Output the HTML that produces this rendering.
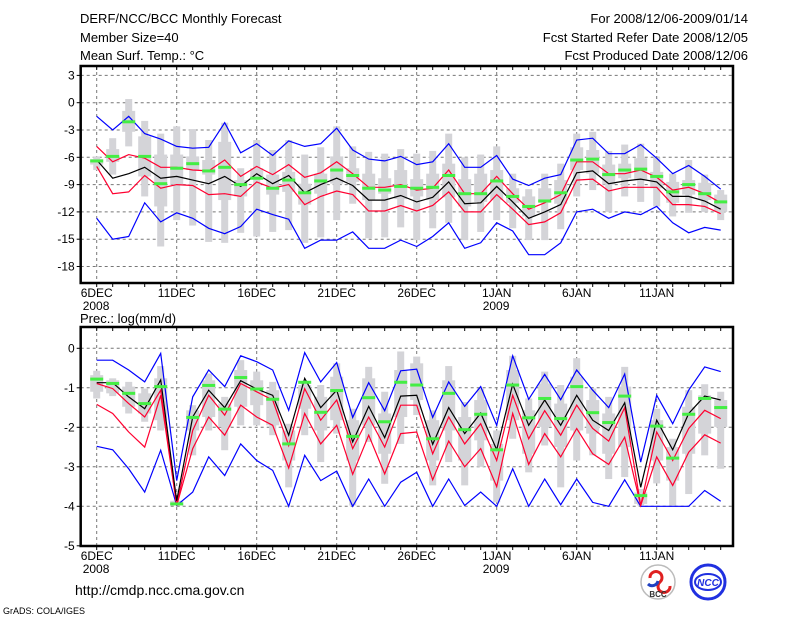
<!DOCTYPE html>
<html><head><meta charset="utf-8"><style>
body{margin:0;background:#fff;width:800px;height:618px;overflow:hidden}
svg text{font-family:"Liberation Sans",sans-serif}
</style></head><body>
<svg id="chart" width="800" height="618" xmlns="http://www.w3.org/2000/svg">
<g font-size="13" fill="#000">
<text x="80" y="23">DERF/NCC/BCC Monthly Forecast</text>
<text x="80" y="42">Member Size=40</text>
<text x="80" y="60">Mean Surf. Temp.: °C</text>
<text x="748" y="23" text-anchor="end">For 2008/12/06-2009/01/14</text>
<text x="748" y="42" text-anchor="end">Fcst Started Refer Date 2008/12/05</text>
<text x="748" y="60" text-anchor="end">Fcst Produced Date 2008/12/06</text>
<text x="80" y="323">Prec.: log(mm/d)</text>
</g>
<g id="top"></g>
<g id="bot"></g>
<text x="75" y="595" font-size="14">http://cmdp.ncc.cma.gov.cn</text>
<text x="3" y="614" font-size="9">GrADS: COLA/IGES</text>
<g>
<circle cx="658" cy="582" r="17" fill="#fff" stroke="#bbb" stroke-width="1.5"/>
<path d="M650 578 a6 6 0 1 1 10 4 a6 6 0 1 0 10 4" fill="none" stroke="#e02020" stroke-width="3"/>
<path d="M648 584 a6 6 0 0 0 10 -3" fill="none" stroke="#2040c0" stroke-width="3"/>
<text x="658" y="597" font-size="8" font-weight="bold" text-anchor="middle" fill="#333">BCC</text>
</g>
<g>
<circle cx="708" cy="582" r="17" fill="none" stroke="#2030e0" stroke-width="3"/>
<ellipse cx="708" cy="582" rx="13" ry="8" fill="none" stroke="#2030e0" stroke-width="2"/>
<text x="708" y="586" font-size="10" font-weight="bold" font-style="italic" text-anchor="middle" fill="#2030e0">NCC</text>
</g>
</svg>
<script>
const days = 40;
const dateLabels = ["6DEC","11DEC","16DEC","21DEC","26DEC","1JAN","6JAN","11JAN"];
const yearLabels = ["2008","","","","","2009","",""];
// Temperature panel data
const tTicks = [3,0,-3,-6,-9,-12,-15,-18];
const tMedian = [-6.3,-8.3,-7.8,-7.1,-8.3,-8.1,-8.5,-8.9,-8.1,-9.2,-7.8,-8.9,-8.0,-9.9,-9.0,-8.3,-9.1,-10.7,-10.7,-10.2,-10.9,-10.4,-8.7,-11.1,-11.0,-9.2,-10.9,-12.7,-12.0,-11.2,-7.7,-7.5,-8.9,-8.6,-8.4,-8.7,-10.3,-10.3,-10.8,-11.7];
const tRedHi = [-4.8,-6.5,-5.7,-6.1,-7.1,-7.1,-7.4,-7.5,-6.3,-8.1,-7.0,-7.9,-6.8,-8.2,-7.7,-6.5,-7.8,-9.3,-9.3,-9.0,-9.6,-9.4,-7.4,-10.0,-10.0,-8.1,-10.0,-11.7,-11.0,-10.1,-6.5,-6.5,-7.8,-7.8,-7.4,-8.2,-9.6,-9.3,-10.0,-11.0];
const tRedLo = [-7.0,-10.0,-9.8,-8.0,-9.4,-9.0,-9.1,-10.1,-10.0,-10.3,-8.7,-9.4,-9.0,-11.2,-10.3,-9.7,-10.1,-11.9,-11.9,-11.3,-11.9,-11.3,-9.8,-12.0,-12.0,-10.1,-11.7,-13.4,-13.1,-12.1,-8.5,-8.4,-9.7,-9.3,-9.3,-9.3,-11.2,-11.2,-11.4,-12.2];
const tMax = [-1.5,-3.0,-1.5,-3.4,-4.0,-4.8,-5.0,-4.9,-2.2,-5.5,-4.5,-5.8,-4.2,-4.8,-4.5,-2.8,-5.2,-6.2,-6.4,-5.9,-6.8,-6.5,-4.5,-7.1,-7.1,-5.8,-8.4,-9.1,-8.3,-7.9,-4.1,-3.9,-5.6,-5.6,-4.6,-6.1,-7.8,-6.9,-8.1,-9.5];
const tMin = [-12.7,-15.0,-14.7,-11.0,-13.1,-12.1,-12.7,-13.8,-14.4,-13.6,-11.7,-12.3,-12.8,-16.0,-15.1,-15.1,-14.2,-16.0,-16.0,-15.1,-15.8,-14.7,-13.2,-16.0,-15.4,-13.2,-14.1,-16.7,-16.7,-15.4,-12.0,-11.7,-12.7,-12.0,-12.3,-11.4,-13.2,-14.3,-13.7,-14.0];
const tObs = [-6.4,-5.9,-2.1,-5.9,-8.9,-7.2,-6.7,-7.5,-7.1,-9.0,-8.3,-9.4,-8.5,-9.9,-8.6,-7.4,-8.0,-9.4,-9.6,-9.2,-9.4,-9.3,-8.0,-10.0,-10.0,-8.6,-10.3,-11.4,-10.8,-9.9,-6.3,-6.2,-7.9,-7.4,-7.3,-8.1,-9.8,-9.0,-10.0,-10.9];
const tWhiskHi = [-5.9,-3.9,0.4,-2.0,-3.4,-2.6,-2.9,-4.1,-2.2,-7.2,-4.1,-5.2,-4.1,-5.7,-4.9,-2.6,-4.8,-5.4,-5.6,-5.1,-5.6,-5.3,-3.4,-6.0,-5.7,-4.8,-7.8,-9.5,-7.8,-6.7,-3.4,-3.2,-5.3,-4.6,-4.5,-6.0,-7.8,-6.3,-7.9,-9.6];
const tWhiskLo = [-7.4,-7.9,-4.8,-10.3,-15.8,-12.9,-13.5,-15.3,-15.4,-14.3,-14.7,-14.2,-14.0,-15.4,-14.8,-12.9,-11.1,-14.9,-14.8,-13.7,-15.1,-13.8,-13.2,-15.1,-14.2,-12.9,-13.8,-15.1,-15.1,-13.9,-10.3,-9.6,-12.0,-10.3,-10.9,-11.4,-12.5,-12.1,-12.0,-12.9];
const tBoxHi = [-6.2,-5.1,-0.9,-3.7,-5.7,-5.7,-5.9,-6.3,-4.3,-8.5,-7.2,-7.9,-7.6,-8.9,-7.8,-5.9,-7.2,-7.8,-8.3,-7.4,-8.4,-7.8,-6.7,-8.4,-7.8,-7.4,-9.4,-10.3,-9.4,-8.5,-4.9,-5.2,-6.8,-6.7,-6.1,-7.6,-8.7,-8.5,-8.8,-10.1];
const tBoxLo = [-6.8,-6.5,-3.2,-8.1,-11.4,-9.0,-7.4,-7.9,-10.7,-10.3,-8.3,-10.1,-9.8,-11.2,-10.0,-8.9,-8.7,-10.7,-10.0,-10.6,-10.3,-10.7,-10.4,-11.4,-10.9,-10.7,-11.0,-12.5,-11.0,-11.1,-7.4,-7.8,-9.0,-8.3,-8.5,-9.4,-11.0,-10.1,-10.7,-12.0];
// Precipitation panel data
const pTicks = [0,-1,-2,-3,-4,-5];
const pMedian = [-0.87,-0.87,-1.23,-1.53,-0.8,-3.86,-1.74,-1.06,-1.5,-0.82,-1.03,-1.19,-2.2,-0.76,-1.5,-1.06,-2.37,-1.47,-2.26,-1.21,-1.19,-2.43,-1.5,-2.16,-1.64,-2.57,-0.91,-1.95,-1.31,-1.95,-1.19,-1.82,-2.08,-1.38,-3.52,-1.82,-2.57,-1.65,-1.21,-1.31];
const pRedHi = [-0.89,-1.02,-1.4,-1.74,-1.06,-3.98,-2.08,-1.19,-1.69,-0.89,-1.1,-1.31,-2.46,-1.02,-1.82,-1.31,-2.54,-1.74,-2.5,-1.44,-1.44,-2.67,-1.74,-2.42,-1.91,-2.84,-1.19,-2.29,-1.58,-2.2,-1.44,-2.03,-2.35,-1.5,-3.98,-2.12,-2.84,-2.03,-1.57,-1.78];
const pRedLo = [-1.42,-1.65,-2.12,-2.5,-1.19,-3.98,-2.54,-1.74,-2.2,-1.44,-1.74,-1.95,-3.03,-1.65,-2.42,-1.95,-3.19,-2.2,-3.18,-2.16,-2.12,-3.33,-2.35,-3.0,-2.54,-3.5,-1.65,-2.94,-2.16,-2.75,-2.03,-2.67,-2.94,-2.25,-3.98,-2.75,-3.47,-2.63,-2.19,-2.4];
const pMax = [-0.3,-0.3,-0.55,-0.85,-0.13,-3.35,-1.23,-0.55,-0.97,-0.19,-0.34,-0.55,-1.57,-0.11,-0.85,-0.36,-1.75,-0.87,-1.58,-0.57,-0.53,-1.75,-0.85,-1.47,-0.97,-1.95,-0.19,-1.29,-0.66,-1.3,-0.55,-1.06,-1.5,-0.65,-2.88,-1.19,-1.91,-1.06,-0.47,-0.59];
const pMin = [-2.48,-2.57,-3.05,-3.64,-2.58,-3.98,-3.64,-2.75,-3.22,-2.42,-2.84,-3.09,-4.0,-2.71,-3.35,-3.11,-4.0,-3.31,-4.0,-3.39,-3.14,-4.0,-3.31,-3.98,-3.64,-4.0,-3.05,-4.0,-3.31,-3.96,-3.31,-3.9,-4.0,-3.33,-4.0,-4.0,-4.0,-4.0,-3.6,-3.87];
const pObs = [-0.78,-0.89,-1.14,-1.4,-0.97,-3.94,-1.75,-0.94,-1.54,-0.74,-1.03,-1.29,-2.42,-0.86,-1.62,-1.07,-2.23,-1.25,-1.86,-0.86,-0.93,-2.29,-1.14,-2.06,-1.67,-2.57,-0.93,-1.76,-1.27,-1.78,-0.97,-1.63,-1.88,-1.21,-3.73,-1.97,-2.78,-1.67,-1.27,-1.5];
const pWhiskHi = [-0.57,-0.76,-0.85,-1.02,-0.45,-3.86,-1.44,-0.64,-1.23,-0.3,-0.59,-0.85,-1.91,-0.85,-0.93,-0.38,-1.53,-0.47,-1.1,-0.08,-0.21,-1.57,-0.45,-1.36,-1.02,-2.08,-0.19,-1.27,-0.59,-0.93,-0.25,-1.02,-1.23,-0.47,-3.56,-1.53,-2.29,-1.06,-0.91,-1.1];
const pWhiskLo = [-1.27,-1.21,-1.65,-1.86,-2.08,-3.98,-2.71,-2.08,-2.58,-1.95,-1.95,-2.2,-3.52,-2.2,-2.88,-2.16,-3.98,-2.37,-3.43,-2.42,-1.69,-3.47,-2.88,-3.47,-3.0,-3.9,-2.29,-3.14,-2.46,-3.52,-2.84,-2.71,-3.31,-3.26,-3.98,-3.42,-3.98,-3.69,-2.71,-3.05];
const pBoxHi = [-0.68,-0.81,-0.97,-1.14,-0.76,-3.86,-1.57,-0.81,-1.40,-0.55,-0.81,-1.06,-2.08,-0.93,-1.23,-0.72,-1.82,-0.76,-1.65,-0.55,-0.38,-1.82,-0.81,-1.74,-1.31,-2.42,-0.55,-1.57,-0.89,-1.40,-0.72,-1.31,-1.65,-0.97,-3.65,-1.82,-2.50,-1.48,-1.19,-1.31];
const pBoxLo = [-1.10,-1.14,-1.48,-1.65,-1.82,-3.98,-2.08,-1.74,-1.99,-1.48,-1.44,-1.95,-2.84,-1.53,-2.08,-1.82,-2.84,-1.95,-2.67,-1.74,-1.31,-2.84,-2.08,-2.84,-2.33,-3.35,-1.82,-2.67,-1.99,-2.50,-2.08,-2.16,-2.67,-2.50,-3.94,-2.84,-3.35,-2.67,-2.16,-1.99];

const NS = "http://www.w3.org/2000/svg";
const X0 = 96.7, DX = 16, LEFT = 80.7, RIGHT = 733;
function xs(d){ return X0 + d*DX; }
function mk(parent, tag, attrs){
  const e = document.createElementNS(NS, tag);
  for (const k in attrs) e.setAttribute(k, attrs[k]);
  parent.appendChild(e); return e;
}
function panel(g, top, bottom, yOf, ticks, S, showYear){
  // grid
  ticks.forEach(v => {
    const y = yOf(v);
    if (y > top + 2 && y < bottom - 2) {
      const l = mk(g, "line", {x1:LEFT, x2:RIGHT, y1:y, y2:y, stroke:"#777", "stroke-dasharray":"3,3", "stroke-width":1});
      
      
    }
    const t = mk(g, "text", {x:LEFT-6, y:y+4, "text-anchor":"end", "font-size":12});
    t.textContent = String(v).replace("-", "−").replace("−","-");
    
    
    mk(g, "line", {x1:LEFT-4, x2:LEFT, y1:y, y2:y, stroke:"#000"});
  });
  dateLabels.forEach((lab, i) => {
    const x = xs(i*5);
    const l = mk(g, "line", {x1:x, x2:x, y1:top, y2:bottom, stroke:"#777", "stroke-dasharray":"3,3"});
    
    
    const t = mk(g, "text", {x:x, y:bottom+14, "text-anchor":"middle", "font-size":12});
    t.textContent = lab;
    
    
    if (showYear && yearLabels[i]) {
      const t2 = mk(g, "text", {x:x-14, y:bottom+27, "font-size":12});
      t2.textContent = yearLabels[i];
      
      
    }
  });
  for (let d = 0; d < days; d++) {
    mk(g, "line", {x1:xs(d), x2:xs(d), y1:top, y2:top+4, stroke:"#000"});
    mk(g, "line", {x1:xs(d), x2:xs(d), y1:bottom, y2:bottom+4, stroke:"#000"});
  }
  // gray bars
  for (let d = 0; d < days; d++) {
    const a = yOf(S.wh[d]), b = yOf(S.wl[d]);
    const w = mk(g, "rect", {x:xs(d)-3.5, y:a, width:7, height:Math.max(1,b-a), fill:"#d4d4d8"});
    
    
    const c = yOf(S.bh[d]), e = yOf(S.bl[d]);
    const bx = mk(g, "rect", {x:xs(d)-6.5, y:c, width:13, height:Math.max(1,e-c), fill:"#d4d4d8"});
    
    
  }
  const line = (arr, col, name, w) => {
    const p = mk(g, "polyline", {points: arr.map((v,d)=>xs(d)+","+yOf(v).toFixed(1)).join(" "), fill:"none", stroke:col, "stroke-width":w});
    
    
  };
  line(S.mx, "#0000ff", "max-line", 1.2);
  line(S.mn, "#0000ff", "min-line", 1.2);
  line(S.rh, "#ff0030", "upper-red-line", 1.2);
  line(S.rl, "#ff0030", "lower-red-line", 1.2);
  line(S.md, "#000", "median-line", 1.2);
  for (let d = 0; d < days; d++) {
    const r = mk(g, "rect", {x:xs(d)-6.5, y:yOf(S.ob[d])-1.5, width:13, height:3, fill:"#44ee44"});
    
    
  }
  const f = mk(g, "rect", {x:LEFT, y:top, width:RIGHT-LEFT, height:bottom-top, fill:"none", stroke:"#000", "stroke-width":2.5});
  
  
}
const tY = v => 102.7 - v*9.1;
const pY = v => 348.3 - v*39.5;
panel(document.getElementById("top"), 66, 283, tY, tTicks,
  {wh:tWhiskHi, wl:tWhiskLo, bh:tBoxHi, bl:tBoxLo, mx:tMax, mn:tMin, rh:tRedHi, rl:tRedLo, md:tMedian, ob:tObs}, true);
panel(document.getElementById("bot"), 327, 546, pY, pTicks,
  {wh:pWhiskHi, wl:pWhiskLo, bh:pBoxHi, bl:pBoxLo, mx:pMax, mn:pMin, rh:pRedHi, rl:pRedLo, md:pMedian, ob:pObs}, true);
</script>
</body></html>
